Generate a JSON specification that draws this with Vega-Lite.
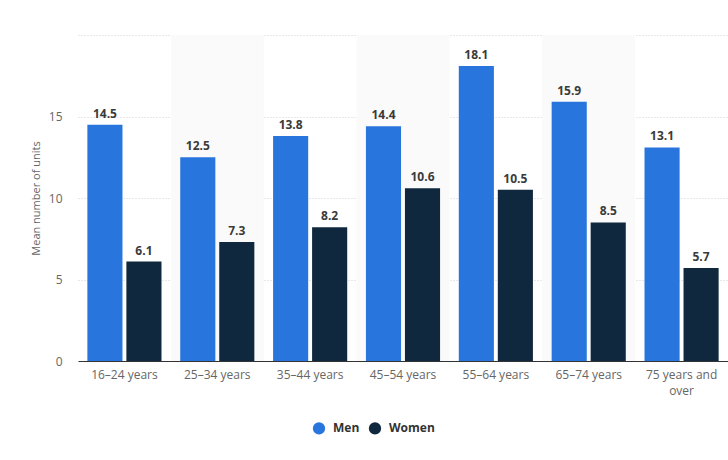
{
  "$schema": "https://vega.github.io/schema/vega-lite/v6.json",
  "width": 650,
  "height": 326,
  "autosize": {"type": "none"},
  "padding": {"left": 78, "top": 35, "right": 0, "bottom": 99},
  "background": "white",
  "config": {
    "view": {"stroke": null},
    "font": "Open Sans",
    "axis": {"labelColor": "#666666", "labelFont": "Open Sans", "labelFontSize": 12, "titleColor": "#666666", "titleFont": "Open Sans", "titleFontWeight": "normal", "titleFontSize": 11}
  },
  "datasets": {
    "bars": [
      {"age": "16–24 years", "sex": "Men", "value": 14.5},
      {"age": "16–24 years", "sex": "Women", "value": 6.1},
      {"age": "25–34 years", "sex": "Men", "value": 12.5},
      {"age": "25–34 years", "sex": "Women", "value": 7.3},
      {"age": "35–44 years", "sex": "Men", "value": 13.8},
      {"age": "35–44 years", "sex": "Women", "value": 8.2},
      {"age": "45–54 years", "sex": "Men", "value": 14.4},
      {"age": "45–54 years", "sex": "Women", "value": 10.6},
      {"age": "55–64 years", "sex": "Men", "value": 18.1},
      {"age": "55–64 years", "sex": "Women", "value": 10.5},
      {"age": "65–74 years", "sex": "Men", "value": 15.9},
      {"age": "65–74 years", "sex": "Women", "value": 8.5},
      {"age": "75 years and over", "sex": "Men", "value": 13.1},
      {"age": "75 years and over", "sex": "Women", "value": 5.7}
    ],
    "bands": [
      {"age": "25–34 years"},
      {"age": "45–54 years"},
      {"age": "65–74 years"}
    ]
  },
  "encoding": {
    "x": {
      "field": "age",
      "type": "nominal",
      "scale": {"domain": ["16–24 years", "25–34 years", "35–44 years", "45–54 years", "55–64 years", "65–74 years", "75 years and over"], "paddingInner": 0, "paddingOuter": 0},
      "axis": {"title": null, "labelAngle": 0, "ticks": false, "domainColor": "#333333", "domainWidth": 1, "labelPadding": 8, "labelExpr": "datum.label == '75 years and over' ? ['75 years and', 'over'] : datum.label", "labelLineHeight": 16}
    }
  },
  "layer": [
    {
      "data": {"name": "bands"},
      "mark": {"type": "rect", "color": "#fafafa"},
      "encoding": {}
    },
    {
      "data": {"name": "bars"},
      "mark": {"type": "bar"},
      "encoding": {
        "xOffset": {"field": "sex", "type": "nominal", "scale": {"paddingInner": 0.1, "paddingOuter": 0.24}},
        "y": {
          "field": "value",
          "type": "quantitative",
          "scale": {"domain": [0, 20], "nice": false},
          "axis": {"title": "Mean number of units", "values": [0, 5, 10, 15, 20], "gridDash": [1, 2], "gridColor": "#d0d0d0", "domain": false, "ticks": false, "labelPadding": 16, "titlePadding": 7, "labelExpr": "datum.value == 20 ? '' : datum.label"}
        },
        "color": {
          "field": "sex",
          "type": "nominal",
          "scale": {"domain": ["Men", "Women"], "range": ["#2876dd", "#0f283d"]},
          "legend": {"title": null, "orient": "none", "legendX": 234, "legendY": 386, "direction": "horizontal", "symbolType": "circle", "symbolSize": 150, "symbolOpacity": 1, "labelFont": "Open Sans", "labelFontSize": 12, "labelFontWeight": "bold", "labelColor": "#333333", "columnPadding": 8, "labelOffset": 7}
        }
      }
    },
    {
      "data": {"name": "bars"},
      "mark": {"type": "text", "baseline": "bottom", "dy": -4, "fontWeight": "bold", "fontSize": 12, "color": "#3a3a3a", "font": "Open Sans"},
      "encoding": {
        "xOffset": {"field": "sex", "type": "nominal", "scale": {"paddingInner": 0.1, "paddingOuter": 0.24}},
        "y": {"field": "value", "type": "quantitative"},
        "text": {"field": "value", "type": "quantitative", "format": ".1f"}
      }
    }
  ]
}
